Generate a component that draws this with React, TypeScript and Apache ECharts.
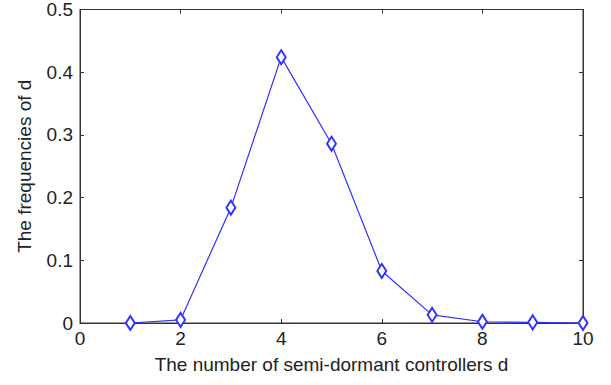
import React, { useEffect, useRef } from "react";
import * as echarts from "echarts";

const controllers = [1, 2, 3, 4, 5, 6, 7, 8, 9, 10];
const frequencies = [0, 0.005, 0.184, 0.424, 0.286, 0.083, 0.013, 0.002, 0.001, 0];
const xTicks = [0, 2, 4, 6, 8, 10];
const yTicks = [0, 0.1, 0.2, 0.3, 0.4, 0.5];

const AXIS_COLOR = "#333";
const TEXT_COLOR = "#222";
const LINE_COLOR = "#3030ff";
const FONT = "Liberation Sans, Arial, sans-serif";

export default function App() {
  const ref = useRef<HTMLDivElement>(null);

  useEffect(() => {
    document.body.style.margin = "0";
    if (!ref.current) return;
    const chart = echarts.init(ref.current, undefined, { renderer: "svg" });
    const label = { color: TEXT_COLOR, fontSize: 19, fontFamily: FONT };
    const line = { show: true, onZero: false, lineStyle: { color: AXIS_COLOR, width: 1 } };
    const tick = { show: true, inside: true, length: 4, lineStyle: { color: AXIS_COLOR } };
    const points = controllers.map((c, i) => [c, frequencies[i]]);
    const xRange = { min: xTicks[0], max: xTicks[xTicks.length - 1], interval: 2 };
    const yRange = { min: yTicks[0], max: yTicks[yTicks.length - 1], interval: 0.1 };
    chart.setOption({
      animation: false,
      backgroundColor: "#fff",
      grid: {
        left: 80,
        right: 28,
        top: 8,
        bottom: 62,
        show: true,
        borderColor: AXIS_COLOR,
        borderWidth: 1,
      },
      xAxis: [
        {
          type: "value",
          ...xRange,
          axisLine: line,
          axisTick: tick,
          splitLine: { show: false },
          axisLabel: { ...label, margin: 6 },
          name: "The number of semi-dormant controllers d",
          nameLocation: "middle",
          nameGap: 32,
          nameTextStyle: { ...label },
        },
        {
          type: "value",
          position: "top",
          ...xRange,
          axisLine: line,
          axisTick: tick,
          splitLine: { show: false },
          axisLabel: { show: false },
        },
      ],
      yAxis: [
        {
          type: "value",
          ...yRange,
          axisLine: line,
          axisTick: tick,
          splitLine: { show: false },
          axisLabel: {
            ...label,
            margin: 7,
            formatter: (v: number) => String(Number(v.toFixed(1))),
          },
          name: "The frequencies of d",
          nameLocation: "middle",
          nameGap: 46,
          nameTextStyle: { ...label },
        },
        {
          type: "value",
          position: "right",
          ...yRange,
          axisLine: line,
          axisTick: tick,
          splitLine: { show: false },
          axisLabel: { show: false },
        },
      ],
      series: [
        {
          // invisible copy bound to the top/right axes so their ticks render
          type: "line",
          xAxisIndex: 1,
          yAxisIndex: 1,
          data: points,
          symbol: "none",
          lineStyle: { opacity: 0 },
          silent: true,
        },
        {
          type: "line",
          xAxisIndex: 0,
          yAxisIndex: 0,
          data: points,
          symbol: "emptyDiamond",
          symbolSize: [9, 14],
          lineStyle: { color: LINE_COLOR, width: 1.2 },
          itemStyle: { color: LINE_COLOR, borderWidth: 1.2 },
        },
      ],
    });
    return () => chart.dispose();
  }, []);

  return <div ref={ref} style={{ width: 611, height: 385 }} />;
}
